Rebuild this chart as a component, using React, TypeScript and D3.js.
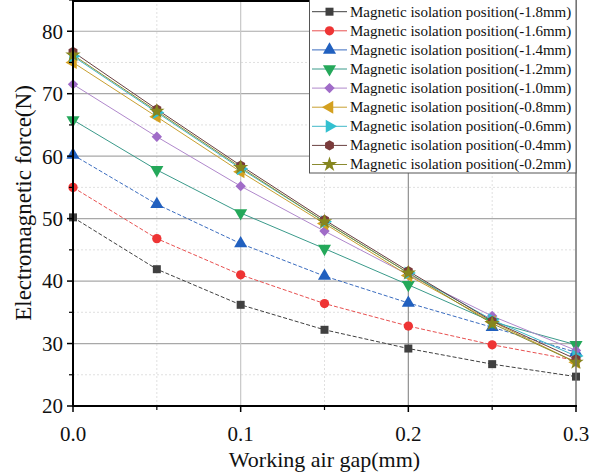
import React from "react";
import * as d3 from "d3";

const gaps = [0, 0.05, 0.1, 0.15, 0.2, 0.25, 0.3];
const seriesNames = [
  "Magnetic isolation position(-1.8mm)",
  "Magnetic isolation position(-1.6mm)",
  "Magnetic isolation position(-1.4mm)",
  "Magnetic isolation position(-1.2mm)",
  "Magnetic isolation position(-1.0mm)",
  "Magnetic isolation position(-0.8mm)",
  "Magnetic isolation position(-0.6mm)",
  "Magnetic isolation position(-0.4mm)",
  "Magnetic isolation position(-0.2mm)",
];
const s18 = [50.2, 41.9, 36.2, 32.2, 29.2, 26.7, 24.7];
const s16 = [55.0, 46.8, 41.0, 36.4, 32.8, 29.8, 27.3];
const s14 = [60.2, 52.3, 46.0, 40.8, 36.5, 32.6, 28.6];
const s12 = [65.8, 57.8, 50.9, 45.2, 39.4, 33.5, 29.8];
const s10 = [71.5, 63.1, 55.2, 48.0, 41.0, 34.4, 28.9];
const s08 = [75.0, 66.3, 57.5, 49.2, 40.9, 33.5, 27.0];
const s06 = [76.0, 67.0, 58.0, 49.5, 41.3, 33.8, 28.0];
const s04 = [76.7, 67.5, 58.5, 49.8, 41.6, 33.6, 27.5];
const s02 = [76.2, 67.2, 58.2, 49.5, 41.3, 33.2, 27.0];
const allSeries = [s18, s16, s14, s12, s10, s08, s06, s04, s02];
const yTicks = [20, 30, 40, 50, 60, 70, 80];
const yMinor = [25, 35, 45, 55, 65, 75, 85];
const xTicks = [0, 0.1, 0.2, 0.3];
const xMinor = [0.05, 0.15, 0.25];

const colors = ["#404040", "#ee3434", "#2160bf", "#24a85a", "#a06cc8", "#d4a020", "#33c0d0", "#7a3b3b", "#86861e"];
const lineColors = ["#404040", "#e85050", "#3a6cbf", "#3a9a8a", "#b088cc", "#c8a030", "#40b8c8", "#6a4040", "#8a8a30"];

const hexagon = {
  draw(ctx: any, size: number) {
    const r = Math.sqrt(size / 2.598);
    for (let i = 0; i < 6; i++) {
      const a = (Math.PI / 3) * i + Math.PI / 6;
      const x = r * Math.cos(a), y = r * Math.sin(a);
      if (i === 0) ctx.moveTo(x, y); else ctx.lineTo(x, y);
    }
    ctx.closePath();
  },
};

const symDefs: { type: any; size: number; rot: number }[] = [
  { type: d3.symbolSquare, size: 64, rot: 0 },
  { type: d3.symbolCircle, size: 68, rot: 0 },
  { type: d3.symbolTriangle, size: 74, rot: 0 },
  { type: d3.symbolTriangle, size: 74, rot: 180 },
  { type: d3.symbolSquare, size: 54, rot: 45 },
  { type: d3.symbolTriangle, size: 74, rot: -90 },
  { type: d3.symbolTriangle, size: 74, rot: 90 },
  { type: hexagon, size: 68, rot: 0 },
  { type: d3.symbolStar, size: 74, rot: 0 },
];

export default function App() {
  const W = 589, H = 476;
  const left = 73, right = 576, top = 0, bottom = 406;
  const x = d3.scaleLinear().domain([0, 0.3]).range([left, right]);
  const y = d3.scaleLinear().domain([20, 85]).range([bottom, top]);
  const line = d3.line<number>().x((_, i) => x(gaps[i])).y((d) => y(d));
  const font = "'Liberation Serif', 'Times New Roman', serif";

  return (
    <svg width={W} height={H} style={{ position: "absolute", left: 0, top: 0, background: "#fff" }} fontFamily={font}>
      <rect x={0} y={0} width={W} height={H} fill="#fff" />
      {/* minor grid */}
      {yMinor.filter((v) => v < 85).map((v) => (
        <line key={"ym" + v} x1={left} x2={right} y1={y(v)} y2={y(v)} stroke="#d8d8d8" strokeWidth={0.8} strokeDasharray="2,2" />
      ))}
      {xMinor.map((v) => (
        <line key={"xm" + v} x1={x(v)} x2={x(v)} y1={top} y2={bottom} stroke="#d8d8d8" strokeWidth={0.8} strokeDasharray="2,2" />
      ))}
      {/* major grid */}
      {yTicks.filter((v) => v > 20).map((v) => (
        <line key={"yg" + v} x1={left} x2={right} y1={y(v)} y2={y(v)} stroke="#a8a8a8" strokeWidth={1.2} />
      ))}
      {xTicks.filter((v) => v > 0 && v < 0.3).map((v) => (
        <line key={"xg" + v} x1={x(v)} x2={x(v)} y1={top} y2={bottom} stroke={v === 0.2 ? "#909090" : "#c8c8c8"} strokeWidth={1.2} />
      ))}
      {/* lines */}
      {allSeries.map((s, i) => (
        <path key={"l" + i} d={line(s) || ""} fill="none" stroke={lineColors[i]} strokeWidth={1} strokeDasharray={i < 3 ? "4,2" : undefined} />
      ))}
      {/* markers */}
      {allSeries.map((s, i) =>
        s.map((v, j) => (
          <path
            key={"m" + i + "-" + j}
            d={d3.symbol().type(symDefs[i].type).size(symDefs[i].size)() || ""}
            transform={`translate(${x(gaps[j])},${y(v)}) rotate(${symDefs[i].rot})`}
            fill={colors[i]}
          />
        ))
      )}
      {/* frame */}
      <line x1={right} x2={right} y1={top} y2={bottom} stroke="#707070" strokeWidth={1.5} />
      <line x1={left} x2={right} y1={top + 1} y2={top + 1} stroke="#000" strokeWidth={2} />
      <line x1={left} x2={left} y1={top} y2={bottom + 1} stroke="#000" strokeWidth={2} />
      <line x1={left - 1} x2={right + 1} y1={bottom} y2={bottom} stroke="#000" strokeWidth={2} />
      {/* y ticks */}
      {yTicks.map((v) => (
        <g key={"yt" + v}>
          <line x1={left - 6} x2={left} y1={y(v)} y2={y(v)} stroke="#000" strokeWidth={1.5} />
          <text x={left - 10} y={y(v)} dy="0.35em" textAnchor="end" fontSize={21} fill="#111">{v}</text>
        </g>
      ))}
      {yMinor.map((v) => (
        <line key={"ymt" + v} x1={left - 4} x2={left} y1={y(v)} y2={y(v)} stroke="#000" strokeWidth={1.2} />
      ))}
      {/* x ticks */}
      {xTicks.map((v) => (
        <g key={"xt" + v}>
          <line x1={x(v)} x2={x(v)} y1={bottom} y2={bottom + 6} stroke="#000" strokeWidth={1.5} />
          <text x={x(v)} y={bottom + 35} textAnchor="middle" fontSize={21} fill="#111">{v.toFixed(1)}</text>
        </g>
      ))}
      {xMinor.map((v) => (
        <line key={"xmt" + v} x1={x(v)} x2={x(v)} y1={bottom} y2={bottom + 4} stroke="#000" strokeWidth={1.2} />
      ))}
      {/* axis titles */}
      <text x={(left + right) / 2} y={467} textAnchor="middle" fontSize={22} fill="#111">Working air gap(mm)</text>
      <text transform={`translate(31,${(top + bottom) / 2}) rotate(-90)`} textAnchor="middle" fontSize={23} fill="#111">Electromagnetic force(N)</text>
      {/* legend */}
      <rect x={309.5} y={-1} width={266.5} height={174} fill="#fff" stroke="#555" strokeWidth={1} />
      {seriesNames.map((name, i) => {
        const cy = 11.7 + i * 19.1;
        return (
          <g key={"lg" + i}>
            <line x1={312} x2={347} y1={cy} y2={cy} stroke={lineColors[i]} strokeWidth={1} />
            <path
              d={d3.symbol().type(symDefs[i].type).size(symDefs[i].size)() || ""}
              transform={`translate(329.5,${cy}) rotate(${symDefs[i].rot})`}
              fill={colors[i]}
            />
            <text x={350} y={cy} dy="0.33em" fontSize={15} fill="#111">{name}</text>
          </g>
        );
      })}
    </svg>
  );
}
